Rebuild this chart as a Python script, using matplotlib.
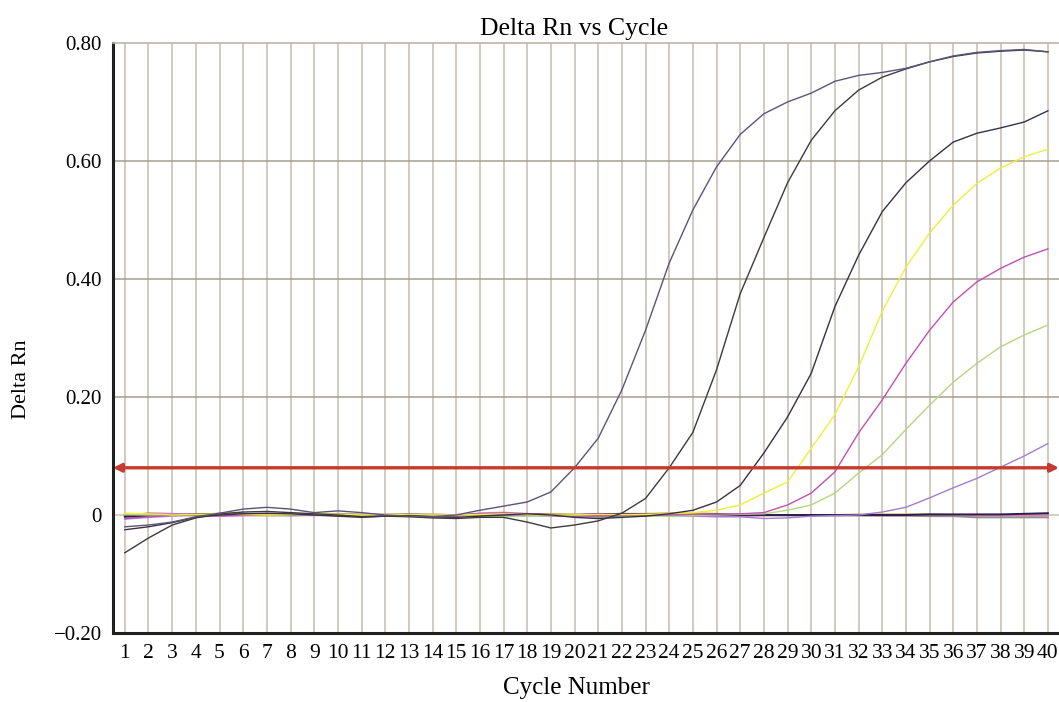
import numpy as np
import matplotlib
matplotlib.use('Agg')
import matplotlib.pyplot as plt

plt.rcParams['font.family'] = ['Liberation Serif', 'DejaVu Serif']

cycles = np.arange(1, 41)

# amplifying curves
amp_a = [-0.020, -0.017, -0.012, -0.003, 0.003, 0.010, 0.013, 0.010, 0.004, 0.007,
         0.004, 0.000, -0.002, -0.003, 0.000, 0.008, 0.015, 0.022, 0.039, 0.080,
         0.130, 0.212, 0.313, 0.427, 0.517, 0.590, 0.645, 0.680, 0.700, 0.715,
         0.735, 0.745, 0.750, 0.757, 0.768, 0.778, 0.784, 0.787, 0.789, 0.785]
amp_b = [-0.064, -0.039, -0.017, -0.005, 0.002, 0.005, 0.006, 0.004, 0.002, 0.000,
         -0.003, -0.002, -0.003, -0.005, -0.006, -0.004, -0.004, -0.012, -0.022, -0.017,
         -0.010, 0.003, 0.028, 0.080, 0.140, 0.246, 0.375, 0.470, 0.563, 0.635,
         0.685, 0.720, 0.742, 0.756, 0.768, 0.777, 0.783, 0.786, 0.788, 0.785]
amp_c = [-0.025, -0.020, -0.013, -0.004, 0.000, 0.002, 0.003, 0.002, 0.000, -0.002,
         -0.004, -0.002, -0.001, -0.003, -0.004, -0.002, 0.000, 0.002, 0.000, -0.004,
         -0.006, -0.004, -0.002, 0.002, 0.008, 0.022, 0.050, 0.105, 0.166, 0.240,
         0.353, 0.440, 0.514, 0.563, 0.600, 0.632, 0.647, 0.656, 0.666, 0.685]
amp_yellow = [0.003, 0.002, 0.000, 0.001, 0.002, 0.001, 0.000, 0.001, 0.002, 0.001,
              0.000, 0.001, 0.001, 0.000, 0.000, 0.001, 0.002, 0.001, 0.000, 0.000,
              0.001, 0.001, 0.001, 0.002, 0.004, 0.008, 0.017, 0.037, 0.056, 0.113,
              0.170, 0.251, 0.345, 0.420, 0.478, 0.525, 0.562, 0.588, 0.607, 0.620]
amp_magenta = [-0.006, -0.003, 0.000, 0.000, -0.001, 0.000, 0.000, 0.001, 0.000, -0.001,
               0.000, 0.000, 0.001, 0.000, -0.001, 0.002, 0.003, 0.002, 0.000, -0.002,
               -0.001, 0.000, 0.000, 0.000, 0.001, 0.001, 0.002, 0.004, 0.017, 0.037,
               0.073, 0.139, 0.195, 0.257, 0.313, 0.361, 0.395, 0.418, 0.437, 0.451]
amp_green = [0.001, 0.000, -0.001, 0.000, 0.001, 0.000, -0.001, 0.000, 0.001, 0.000,
             -0.001, 0.000, 0.000, 0.001, 0.000, -0.002, -0.003, -0.002, -0.001, 0.000,
             0.000, -0.001, -0.002, -0.002, -0.001, 0.000, 0.001, 0.002, 0.008, 0.017,
             0.037, 0.071, 0.102, 0.145, 0.186, 0.225, 0.257, 0.285, 0.305, 0.322]
amp_lavender = [-0.007, -0.004, -0.002, 0.000, -0.001, 0.000, 0.000, 0.000, -0.001, 0.000,
                0.000, 0.001, 0.000, 0.000, 0.000, 0.001, 0.000, -0.001, -0.002, -0.002,
                -0.001, 0.000, 0.000, -0.001, -0.002, -0.003, -0.003, -0.006, -0.005, -0.002,
                -0.001, 0.000, 0.005, 0.013, 0.029, 0.046, 0.062, 0.081, 0.100, 0.121]

# flat (no amplification) curves
flat_navy = [-0.003, -0.002, 0.000, 0.001, 0.002, 0.002, 0.001, 0.000, 0.001, 0.000,
             -0.001, 0.000, 0.001, 0.000, 0.000, 0.001, 0.002, 0.001, 0.000, 0.000,
             0.001, 0.002, 0.001, 0.000, 0.000, 0.001, 0.000, 0.000, 0.000, 0.000,
             0.000, 0.000, 0.000, 0.000, 0.001, 0.001, 0.001, 0.001, 0.002, 0.003]
flat_grey = [0.000, 0.001, 0.000, -0.001, 0.000, 0.001, 0.000, -0.001, 0.000, 0.001,
             0.000, -0.001, -0.001, 0.000, 0.000, -0.001, 0.000, 0.001, 0.000, -0.002,
             -0.003, -0.002, -0.001, 0.000, -0.001, -0.001, 0.000, 0.000, -0.001, -0.001,
             -0.001, -0.001, -0.001, -0.001, -0.002, -0.002, -0.004, -0.004, -0.004, -0.004]
flat_pink = [-0.002, 0.003, 0.002, 0.000, -0.002, -0.001, 0.000, 0.001, 0.000, -0.001,
             0.000, 0.001, 0.000, -0.001, -0.002, 0.003, 0.004, 0.002, 0.000, -0.001,
             0.002, 0.001, 0.000, 0.000, 0.000, -0.002, -0.002, -0.001, 0.000, 0.000,
             0.000, 0.000, -0.001, -0.001, -0.001, -0.001, -0.001, -0.001, -0.001, -0.001]
flat_khaki = [0.002, 0.001, 0.000, 0.001, 0.002, 0.000, -0.001, 0.000, 0.001, 0.002,
              0.001, 0.000, 0.000, 0.001, 0.000, 0.000, 0.001, 0.001, 0.002, 0.001,
              0.001, 0.002, 0.002, 0.003, 0.003, 0.002, 0.001, 0.000, 0.000, 0.000,
              0.000, 0.001, 0.001, 0.001, 0.001, 0.000, 0.000, 0.000, 0.000, 0.000]

threshold = 0.08

y_ticks = [-0.2, 0.0, 0.2, 0.4, 0.6, 0.8]
y_tick_labels = ['\u22120.20', '0', '0.20', '0.40', '0.60', '0.80']

fig = plt.figure(figsize=(10.59, 7.02), dpi=100)
ax = fig.add_axes([0.1067, 0.0983, 0.8933, 0.8405])

for c in cycles:
    ax.axvline(c, color='#c4bcb0', lw=1.1, zorder=1)
for v in [0.2, 0.4, 0.6]:
    ax.axhline(v, color='#a89e8e', lw=1.1, zorder=1)
ax.axhline(0, color='#c8c2b8', lw=1.1, zorder=1)

ax.plot(cycles, flat_khaki, color='#c8b060', lw=1.4, zorder=2)
ax.plot(cycles, flat_pink, color='#d080c8', lw=1.4, zorder=2)
ax.plot(cycles, flat_grey, color='#9a8c8c', lw=1.4, zorder=2)
ax.plot(cycles, flat_navy, color='#2c1c48', lw=1.4, zorder=2)

ax.plot(cycles, amp_lavender, color='#a27ed2', lw=1.0, zorder=3)
ax.plot(cycles, amp_green, color='#b2d880', lw=1.0, zorder=3)
ax.plot(cycles, amp_magenta, color='#c050b4', lw=1.0, zorder=3)
ax.plot(cycles, amp_yellow, color='#f0ee3a', lw=1.0, zorder=3)
ax.plot(cycles, amp_c, color='#3a3044', lw=1.0, zorder=3)
ax.plot(cycles, amp_b, color='#3c3c3c', lw=1.0, zorder=3)
ax.plot(cycles, amp_a, color='#5c5478', lw=1.0, zorder=3)

ax.annotate('', xy=(0.0, threshold), xytext=(1.0, threshold),
            xycoords=('axes fraction', 'data'), textcoords=('axes fraction', 'data'),
            arrowprops=dict(arrowstyle='<|-|>', color='#c63a30', lw=2.4,
                            mutation_scale=12, shrinkA=0, shrinkB=0), zorder=4)

ax.set_xlim(0.5, 40.47)
ax.set_ylim(-0.2, 0.8)
ax.set_xticks(cycles)
ax.set_xticklabels([str(c) for c in cycles], fontsize=15.5)
ax.set_yticks(y_ticks)
ax.set_yticklabels(y_tick_labels, fontsize=15)
ax.tick_params(axis='both', length=0)
ax.tick_params(axis='x', pad=8)
ax.tick_params(axis='y', pad=8)

ax.spines['right'].set_visible(False)
ax.spines['top'].set_color('#bdb4a8')
ax.spines['top'].set_linewidth(1.2)
ax.spines['left'].set_linewidth(2.2)
ax.spines['bottom'].set_linewidth(2.2)
ax.spines['left'].set_color('#202020')
ax.spines['bottom'].set_color('#202020')

ax.set_title('Delta Rn vs Cycle', fontsize=18.5, pad=6, x=0.487)
ax.set_xlabel('Cycle Number', fontsize=18, labelpad=12)
ax.xaxis.set_label_coords(0.49, -0.075)
ax.set_ylabel('Delta Rn', fontsize=16)
ax.yaxis.set_label_coords(-0.087, 0.43)

fig.savefig('out.png', dpi=100)
